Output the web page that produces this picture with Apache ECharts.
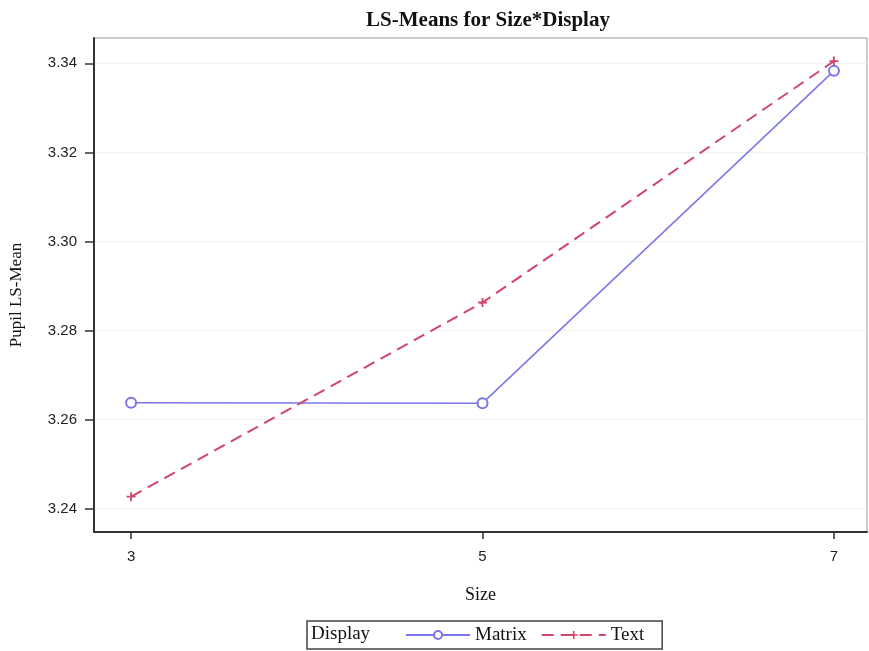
<!DOCTYPE html>
<html>
<head>
<meta charset="utf-8">
<script src="https://cdn.jsdelivr.net/npm/echarts@6/dist/echarts.min.js"></script>
<style>
  body { margin: 0; background: #fff; }
  #main { width: 869px; height: 651px; }
</style>
</head>
<body>
<div id="main"></div>
<script>
const sizes = [3, 5, 7]
const matrix = [3.2638, 3.2637, 3.3383]
const text = [3.2427, 3.2863, 3.3405]
const yTicks = [3.24, 3.26, 3.28, 3.30, 3.32, 3.34]
const xTicks = [3, 5, 7]

const pairs = (xs, ys) => xs.map((x, i) => [x, ys[i]])

const serif = '"Liberation Serif", "DejaVu Serif", serif'
const sans = '"Liberation Sans", "DejaVu Sans", sans-serif'
const plus = 'path://M4,0H6V4H10V6H6V10H4V6H0V4H4Z'

let chart = echarts.init(document.querySelector('#main'))
let option = {
    animation: false,
    title: {
        text: 'LS-Means for Size*Display',
        left: 483,
        textAlign: 'center',
        top: 5,
        textStyle: { fontFamily: serif, fontSize: 21, fontWeight: 'bold', color: '#111' },
    },
    grid: {
        left: 94, right: 2, top: 38, bottom: 119,
        outerBoundsMode: 'none',
        show: true, borderColor: '#9a9a9a', borderWidth: 1,
    },
    legend: {
        left: 307, top: 621,
        padding: [4, 18, 4, 98],
        borderColor: '#444', borderWidth: 1.5,
        itemWidth: 64, itemHeight: 10, itemGap: 14,
        textStyle: { fontFamily: serif, fontSize: 19, lineHeight: 20, color: '#111' },
        data: ['Matrix', 'Text'],
    },
    graphic: [
        {
            type: 'text', left: 311, top: 625,
            style: { text: 'Display', font: '19px ' + serif, fill: '#111' },
        },
        {
            type: 'text', x: 17, y: 295, rotation: Math.PI / 2,
            style: {
                text: 'Pupil LS-Mean', font: '17px ' + serif, fill: '#111',
                align: 'center', verticalAlign: 'middle',
            },
        },
    ],
    xAxis: {
        type: 'value',
        min: 2.789, max: 7.188,
        name: 'Size', nameLocation: 'middle', nameGap: 54,
        nameTextStyle: { fontFamily: serif, fontSize: 18, color: '#111' },
        axisLine: { lineStyle: { color: '#333', width: 2 } },
        axisTick: { customValues: xTicks, length: 7, lineStyle: { color: '#333', width: 1.5 } },
        axisLabel: { customValues: xTicks, fontFamily: sans, fontSize: 15, color: '#222', margin: 17 },
        splitLine: { show: false },
    },
    yAxis: {
        type: 'value',
        min: 3.23477, max: 3.34568,
        axisLine: { show: true, lineStyle: { color: '#333', width: 2 } },
        axisTick: { customValues: yTicks, length: 9, lineStyle: { color: '#333', width: 1.5 } },
        axisLabel: {
            customValues: yTicks, fontFamily: sans, fontSize: 15, color: '#222', margin: 17,
            formatter: v => v.toFixed(2),
        },
        splitLine: { show: true, lineStyle: { color: '#f0f0f0', width: 1 } },
    },
    series: [
        {
            name: 'Matrix',
            type: 'line',
            data: pairs(sizes, matrix),
            symbol: 'emptyCircle', symbolSize: 10,
            itemStyle: { color: '#7a76ea', borderWidth: 1.5 },
            lineStyle: { color: '#7a76ea', width: 1.5 },
        },
        {
            name: 'Text',
            type: 'line',
            data: pairs(sizes, text),
            symbol: plus, symbolSize: 9,
            itemStyle: { color: '#d2456a' },
            lineStyle: { color: '#d2456a', width: 2, type: [12, 7] },
        },
    ],
}
chart.setOption(option)
</script>
</body>
</html>
